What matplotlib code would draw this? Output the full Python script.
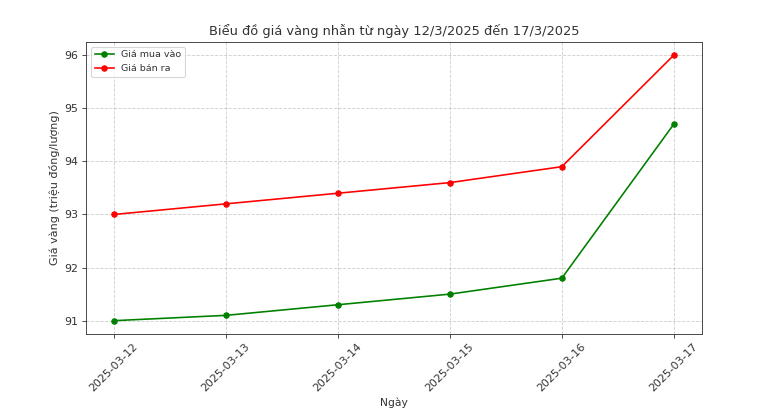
import matplotlib
matplotlib.use("Agg")
import matplotlib.pyplot as plt

dates = ["2025-03-12", "2025-03-13", "2025-03-14", "2025-03-15", "2025-03-16", "2025-03-17"]
buy = [91.0, 91.1, 91.3, 91.5, 91.8, 94.7]
sell = [93.0, 93.2, 93.4, 93.6, 93.9, 96.0]

plt.rcParams.update({
    "text.color": "#333333",
    "axes.labelcolor": "#333333",
    "axes.edgecolor": "#333333",
    "xtick.color": "#333333",
    "ytick.color": "#333333",
})

fig = plt.figure(figsize=(10, 419 / 77.8), dpi=77.8)
ax = fig.add_subplot(111)
fig.subplots_adjust(left=0.1105, right=0.902, top=0.9, bottom=0.203)

x = range(len(dates))
ax.plot(x, buy, marker="o", color="green", label="Giá mua vào", markersize=5)
ax.plot(x, sell, marker="o", color="red", label="Giá bán ra", markersize=5)
ax.set_xticks(list(x))
ax.set_xticklabels(dates, rotation=45)
ax.tick_params(labelsize=10.2)
ax.set_title("Biểu đồ giá vàng nhẫn từ ngày 12/3/2025 đến 17/3/2025", fontsize=12)
ax.set_xlabel("Ngày", fontsize=10)
ax.set_ylabel("Giá vàng (triệu đồng/lượng)", fontsize=10.3)
ax.grid(True, linestyle="--", alpha=0.6)
ax.legend(loc="upper left", fontsize=8.8)

fig.savefig("out.png", dpi=77.8)
